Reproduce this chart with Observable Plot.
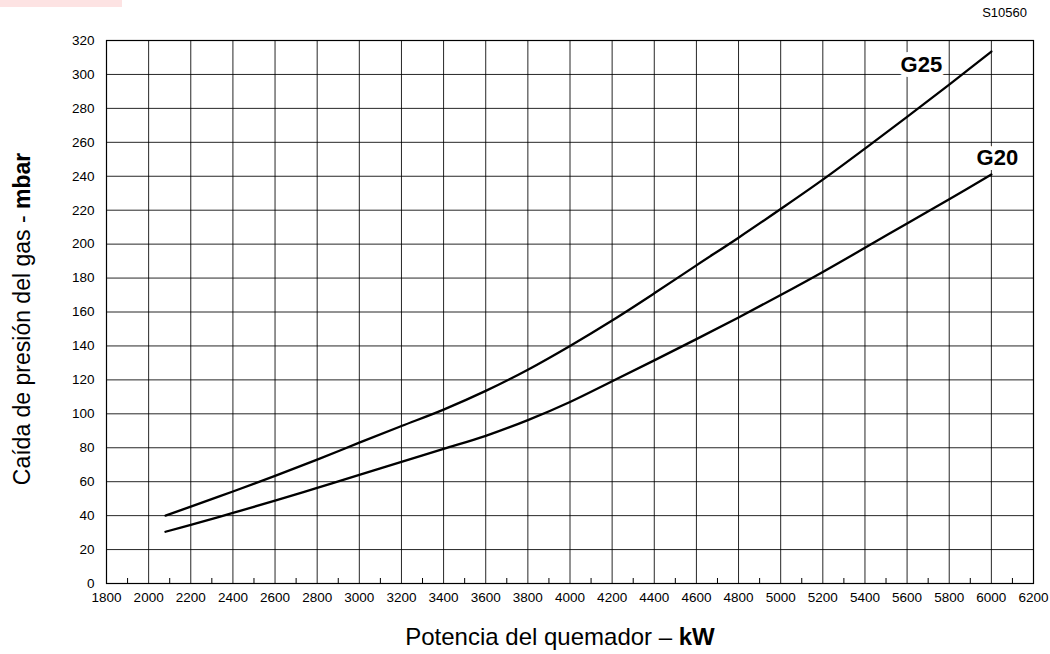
<!DOCTYPE html>
<html>
<head>
<meta charset="utf-8">
<script src="https://cdn.jsdelivr.net/npm/d3@7"></script>
<script src="https://cdn.jsdelivr.net/npm/@observablehq/plot@0.6"></script>
<style>
  html, body { margin: 0; padding: 0; background: #fff; }
  #wrap { position: relative; width: 1050px; height: 654px; }
  #pink { position: absolute; left: 0; top: 0; width: 122px; height: 7px; background: #fde3e3; }
  svg { font-family: "Liberation Sans", Arial, sans-serif; }
</style>
</head>
<body>
<div id="wrap"><div id="pink"></div></div>
<script>
// Potencia del quemador (kW)
const powerKW = [2080, 2200, 2400, 2600, 2800, 3000, 3200, 3400, 3600, 3800, 4000, 4200, 4400, 4600, 4800, 5000, 5200, 5400, 5600, 5800, 6000];
// Caída de presión (mbar)
const g25 = [40, 45.3, 54.2, 63.4, 73, 83, 92.8, 102.5, 113.5, 126, 140, 155, 171, 187.5, 203.8, 220.7, 238, 256.3, 275, 294, 313.5];
const g20 = [30.5, 34.5, 41.6, 48.8, 56.4, 64, 71.7, 79.3, 87, 96.3, 107, 119.2, 131.5, 144, 156.8, 170, 183.6, 197.8, 212.2, 226.5, 241];
const seriesNames = ["G25", "G20"];
const xTicks = [1800, 2000, 2200, 2400, 2600, 2800, 3000, 3200, 3400, 3600, 3800, 4000, 4200, 4400, 4600, 4800, 5000, 5200, 5400, 5600, 5800, 6000, 6200];
const xMinorTicks = [1900, 2100, 2300, 2500, 2700, 2900, 3100, 3300, 3500, 3700, 3900, 4100, 4300, 4500, 4700, 4900, 5100, 5300, 5500, 5700, 5900, 6100];
const yTicks = [0, 20, 40, 60, 80, 100, 120, 140, 160, 180, 200, 220, 240, 260, 280, 300, 320];
const xTitle = "Potencia del quemador – ";
const xUnit = "kW";
const yTitle = "Caída de presión del gas - ";
const yUnit = "mbar";
const docCode = "S10560";

const rows = [];
[g25, g20].forEach((vals, s) => powerKW.forEach((p, i) => rows.push({series: seriesNames[s], p, v: vals[i]})));
const ends = seriesNames.map((name, s) => ({series: name, p: powerKW[powerKW.length - 1], v: [g25, g20][s][powerKW.length - 1]}));

const gridStyle = {stroke: "#000", strokeOpacity: 0.85, strokeWidth: 1};

const chart = Plot.plot({
  width: 1050,
  height: 654,
  marginLeft: 106,
  marginRight: 17,
  marginTop: 40,
  marginBottom: 71,
  style: {fontFamily: "'Liberation Sans', Arial, sans-serif", background: "white"},
  x: {domain: [1800, 6200], label: null},
  y: {domain: [0, 320], label: null},
  marks: [
    Plot.gridX(xTicks.slice(1, -1), gridStyle),
    Plot.gridY(yTicks.slice(1, -1), gridStyle),
    Plot.frame({stroke: "#000", strokeWidth: 1.2}),
    Plot.axisX(xMinorTicks, {tickSize: -5, text: null, stroke: "#000", strokeWidth: 1}),
    Plot.axisX(xTicks, {tickSize: 0, tickPadding: 9, fontSize: 13.5, fill: "#000", tickFormat: d => String(d)}),
    Plot.axisY(yTicks, {tickSize: 0, tickPadding: 12, fontSize: 13.5, fill: "#000", tickFormat: d => String(d)}),
    Plot.line(rows, {x: "p", y: "v", z: "series", curve: "catmull-rom", stroke: "#000", strokeWidth: 2.3}),
    Plot.text(ends.filter(d => d.series === "G25"), {x: "p", y: "v", text: "series", dx: -70, dy: 13, fontSize: 22, fontWeight: "bold", fill: "#000", stroke: "white", strokeWidth: 10, strokeLinejoin: "miter"}),
    Plot.text(ends.filter(d => d.series === "G20"), {x: "p", y: "v", text: "series", dx: 6, dy: -17, fontSize: 22, fontWeight: "bold", fill: "#000", stroke: "white", strokeWidth: 10, strokeLinejoin: "miter"})
  ]
});

document.getElementById("wrap").appendChild(chart);

const svg = d3.select(chart);
// x axis title
const xt = svg.append("text")
  .attr("x", 560).attr("y", 645)
  .attr("text-anchor", "middle")
  .attr("font-size", 24).attr("fill", "#000");
xt.append("tspan").text(xTitle);
xt.append("tspan").attr("font-weight", "bold").text(xUnit);
// y axis title
const yt = svg.append("text")
  .attr("transform", "translate(30,319) rotate(-90)")
  .attr("text-anchor", "middle")
  .attr("font-size", 23).attr("fill", "#000");
yt.append("tspan").text(yTitle);
yt.append("tspan").attr("font-weight", "bold").text(yUnit);
// document code
svg.append("text")
  .attr("x", 1027).attr("y", 17)
  .attr("text-anchor", "end")
  .attr("font-size", 13).attr("fill", "#000")
  .text(docCode);
</script>
</body>
</html>
